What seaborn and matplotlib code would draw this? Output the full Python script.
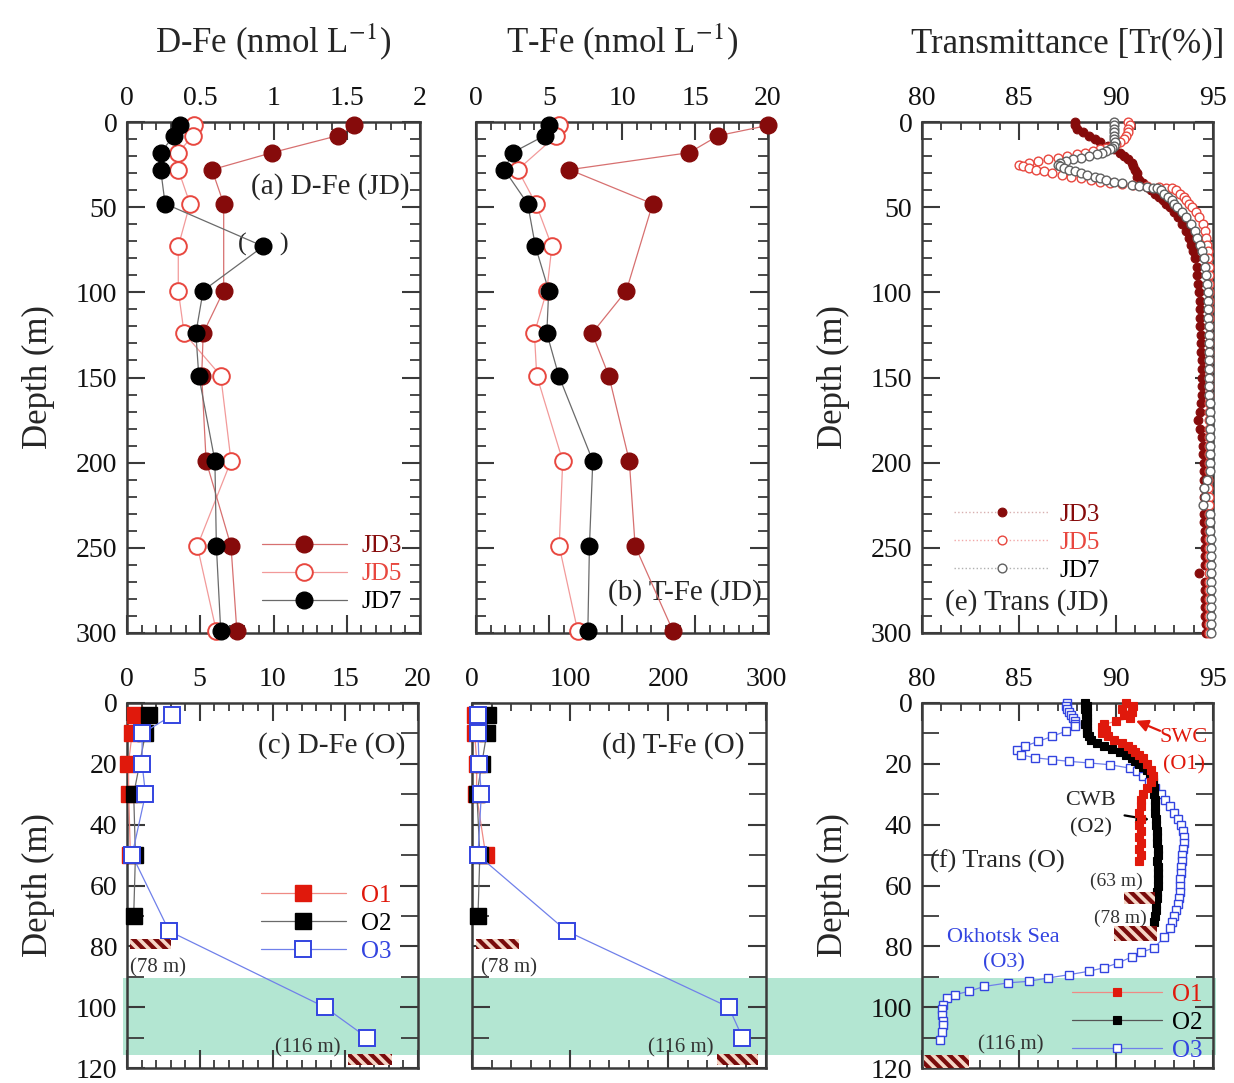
import numpy as np
import pandas as pd
import matplotlib
matplotlib.use("Agg")
import matplotlib.pyplot as plt
import seaborn as sns
from matplotlib.patches import Rectangle
from matplotlib.lines import Line2D
from matplotlib.ticker import MultipleLocator, FuncFormatter

nan = np.nan

# ---------------- data: JD stations (bottle samples) ----------------
JD_DEPTH = [2, 8, 18, 28, 48, 73, 99, 124, 149, 199, 249, 299]
DFE_JD3 = [1.55, 1.44, 0.99, 0.58, 0.66, nan, 0.66, 0.52, 0.51, 0.54, 0.71, 0.75]
DFE_JD5 = [0.46, 0.45, 0.35, 0.35, 0.43, 0.35, 0.35, 0.39, 0.64, 0.71, 0.48, 0.61]
DFE_JD7 = [0.36, 0.32, 0.23, 0.23, 0.26, 0.93, 0.52, 0.47, 0.49, 0.60, 0.61, 0.64]
TFE_JD3 = [20.0, 16.6, 14.6, 6.4, 12.1, nan, 10.3, 7.95, 9.1, 10.5, 10.9, 13.5]
TFE_JD5 = [5.7, 5.5, nan, 2.86, 4.1, 5.2, 4.85, 4.0, 4.16, 5.94, 5.7, 6.97]
TFE_JD7 = [5.03, 4.7, 2.5, 1.94, 3.54, 4.07, 4.98, 4.85, 5.67, 8.0, 7.77, 7.66]

# ---------------- data: O stations (bottle samples) ----------------
O_DEPTH = [4, 10, 20, 30, 50, 70, 75, 100, 110]
DFE_O1 = [0.58, 0.35, 0.10, 0.12, 0.23, nan, nan, nan, nan]
DFE_O2 = [1.50, 1.27, nan, 0.46, 0.58, 0.46, nan, nan, nan]
DFE_O3 = [3.12, 1.04, 1.04, 1.27, 0.35, nan, 2.9, 13.6, 16.5]
TFE_O1 = [3.0, 2.7, 5.0, 4.5, 14.0, nan, nan, nan, nan]
TFE_O2 = [16.4, 15.0, 10.0, 5.0, 8.0, 6.1, nan, nan, nan]
TFE_O3 = [6.1, 6.1, 7.2, 9.5, 6.1, nan, 96.7, 262.0, 276.0]

# ---------------- data: transmittance profiles, JD ----------------
TR_DEEP_DEPTH = [100, 105, 110, 115, 120, 125, 130, 135, 140, 145, 150, 155, 160, 165,
                 170, 175, 180, 185, 190, 195, 200, 205, 210, 215, 220, 225, 230, 235,
                 240, 245, 250, 255, 260, 265, 270, 275, 280, 285, 290, 295, 300]
JD3_TR_DEPTH = [0, 2, 4, 6, 8, 10, 12, 14, 16, 18, 20, 22, 24, 26, 28, 30, 32, 34, 36, 38,
                40, 42, 44, 46, 48, 50, 53, 56, 60, 64, 68, 72, 76, 80, 85, 90, 95]
JD3_TR = [87.9, 87.9, 88.0, 88.3, 88.6, 88.9, 89.2, 89.6, 89.9, 90.2, 90.4, 90.6, 90.8,
          90.9, 91.0, 91.1, 91.1, 91.2, 91.4, 91.6, 91.8, 92.0, 92.2, 92.4, 92.6, 92.8,
          93.0, 93.2, 93.4, 93.6, 93.75, 93.85, 93.95, 94.05, 94.15, 94.2, 94.25]
JD3_TR_DEEP = [94.3, 94.35, 94.35, 94.35, 94.35, 94.4, 94.4, 94.4, 94.45, 94.45, 94.45,
               94.45, 94.45, 94.4, 94.35, 94.25, 94.35, 94.45, 94.5, 94.5, 94.55, 94.55,
               94.55, 94.55, 94.55, 94.6, 94.55, 94.55, 94.6, 94.6, 94.6, 94.6, 94.6,
               94.3, 94.6, 94.6, 94.6, 94.6, 94.6, 94.65, 94.65]
JD5_TR_DEPTH = [0, 2, 4, 6, 8, 10, 12, 13, 14, 15, 16, 17, 18, 19, 20, 21, 22, 23, 24, 25,
                26, 27, 28, 29, 30, 31, 32, 33, 34, 35, 36, 36.5, 37, 37.5, 38, 38.5, 39,
                40, 42, 44, 46, 48, 50, 53, 56, 60, 64, 68, 72, 76, 80, 85, 90, 95]
JD5_TR = [90.6, 90.7, 90.6, 90.6, 90.5, 90.4, 90.2, 90.0, 89.8, 89.5, 89.2, 88.8, 88.4,
          88.0, 87.5, 87.0, 86.5, 86.0, 85.5, 85.0, 85.2, 85.5, 85.9, 86.3, 86.7, 87.2,
          87.7, 88.2, 88.7, 89.2, 89.7, 90.3, 90.9, 91.6, 92.2, 92.6, 92.9, 93.1, 93.3,
          93.5, 93.6, 93.75, 93.9, 94.1, 94.3, 94.5, 94.6, 94.65, 94.7, 94.75, 94.75,
          94.8, 94.8, 94.8]
JD5_TR_DEEP = [94.8, 94.8, 94.8, 94.8, 94.8, 94.8, 94.8, 94.8, 94.8, 94.8, 94.8, 94.8,
               94.8, 94.8, 94.8, 94.8, 94.8, 94.8, 94.8, 94.8, 94.8, 94.8, 94.75, 94.75,
               94.8, 94.8, 94.8, 94.8, 94.8, 94.8, 94.8, 94.8, 94.8, 94.8, 94.8, 94.8,
               94.8, 94.8, 94.8, 94.8, 94.8]
JD7_TR_DEPTH = [0, 2, 4, 6, 8, 10, 12, 14, 15, 16, 17, 18, 19, 20, 21, 22, 23, 24, 25, 26,
                27, 28, 29, 30, 31, 32, 33, 34, 35, 36, 37, 37.5, 38, 38.5, 39, 40, 42, 44,
                46, 48, 50, 53, 56, 60, 64, 68, 72, 76, 80, 85, 90, 95]
JD7_TR = [89.9, 89.9, 89.9, 89.9, 89.9, 89.9, 89.95, 89.9, 89.8, 89.7, 89.5, 89.3, 89.0,
          88.6, 88.2, 87.8, 87.4, 87.1, 87.0, 87.1, 87.3, 87.6, 87.9, 88.2, 88.5, 88.9,
          89.2, 89.5, 89.9, 90.3, 90.8, 91.2, 91.6, 91.9, 92.1, 92.3, 92.5, 92.7, 92.9,
          93.0, 93.15, 93.4, 93.6, 93.85, 94.05, 94.2, 94.35, 94.45, 94.55, 94.6, 94.65,
          94.7]
JD7_TR_DEEP = [94.75, 94.75, 94.75, 94.75, 94.8, 94.8, 94.8, 94.8, 94.8, 94.8, 94.8, 94.8,
               94.8, 94.85, 94.85, 94.85, 94.85, 94.85, 94.85, 94.85, 94.85, 94.85, 94.7,
               94.55, 94.6, 94.5, 94.85, 94.85, 94.85, 94.9, 94.9, 94.9, 94.9, 94.9, 94.9,
               94.9, 94.9, 94.9, 94.9, 94.9, 94.9]

# ---------------- data: transmittance profiles, O ----------------
O1_TR_DEPTH = [0, 1, 2, 3, 4, 5, 6, 7, 8, 9, 10, 11, 12, 13, 14, 15, 16, 17, 18, 20, 22,
               24, 26, 28, 30, 32, 34, 36, 38, 40, 42, 44, 46, 48, 50, 52]
O1_TR = [90.5, 90.9, 90.3, 90.8, 90.4, 90.7, 90.0, 89.4, 89.3, 89.5, 89.3, 89.6, 89.9,
         90.3, 90.6, 90.8, 91.0, 91.2, 91.4, 91.6, 91.8, 91.9, 91.8, 91.6, 91.4, 91.3,
         91.3, 91.2, 91.3, 91.2, 91.3, 91.2, 91.3, 91.2, 91.3, 91.2]
O2_TR_DEPTH = [0, 1, 2, 3, 4, 5, 6, 7, 8, 9, 10, 11, 12, 13, 14, 15, 16, 17, 18, 19, 20,
               21, 22, 23, 24, 25, 26, 28, 30, 32, 34, 36, 38, 40, 42, 44, 46, 48, 50, 52,
               54, 56, 58, 60, 62, 64, 66, 68, 70, 72]
O2_TR = [88.4, 88.5, 88.4, 88.5, 88.45, 88.5, 88.5, 88.4, 88.5, 88.5, 88.5, 88.6, 88.7,
         89.0, 89.4, 89.8, 90.2, 90.5, 90.8, 91.0, 91.2, 91.4, 91.6, 91.75, 91.85, 91.9,
         91.9, 91.95, 91.95, 92.0, 92.0, 92.0, 92.05, 92.05, 92.1, 92.1, 92.1, 92.15,
         92.15, 92.1, 92.15, 92.15, 92.15, 92.15, 92.1, 92.1, 92.05, 92.05, 92.0, 91.95]
O3_TR_DEPTH = [0, 1, 2, 3, 4, 5, 6, 7, 7.7, 9.3, 11, 12.6, 14.2, 15.3, 17, 18, 18.6, 19.2,
               19.7, 20.3, 21.4, 22.5, 24, 26, 28, 30, 32, 34, 36, 38, 40, 42, 44, 46, 48,
               50, 52, 54, 56, 58, 60, 62, 64, 66, 68, 70, 72, 74, 77, 80.5, 82, 83.5,
               85.5, 87, 88.2, 89.3, 90.4, 91.5, 92, 93.2, 94.8, 95.9, 97, 99.2, 100.5,
               102.5, 104.7, 106, 108, 110.7]
O3_TR = [87.5, 87.4, 87.5, 87.6, 87.7, 87.8, 87.9, 87.9, 87.9, 87.4, 86.7, 86.0, 85.3,
         84.9, 85.1, 85.8, 86.7, 87.6, 88.6, 89.7, 90.7, 91.1, 91.4, 91.7, 92.0, 92.3,
         92.55, 92.8, 93.0, 93.2, 93.35, 93.45, 93.5, 93.5, 93.45, 93.4, 93.4, 93.35,
         93.35, 93.3, 93.3, 93.3, 93.25, 93.2, 93.1, 93.0, 92.9, 92.8, 92.5, 91.95, 91.3,
         90.8, 90.1, 89.4, 88.6, 87.6, 86.5, 85.5, 84.45, 83.2, 82.4, 81.7, 81.3, 81.1,
         81.05, 81.05, 81.1, 81.1, 81.05, 80.95]

# ---------------- styling ----------------
sns.set_theme(style="ticks")
plt.rcParams["font.family"] = ["Liberation Serif", "DejaVu Serif"]
plt.rcParams["mathtext.fontset"] = "stix"
plt.rcParams["hatch.linewidth"] = 2.6

C_JD3 = "#860b0b"
C_JD3_L = "#d77070"
C_JD5 = "#e8473f"
C_JD5_L = "#f29a9a"
C_JD7 = "#000000"
C_JD7_L = "#6a6a6a"
C_GREY = "#8a8a8a"
C_O1 = "#e0190c"
C_O1_L = "#ef8a84"
C_O3 = "#3344e0"
C_O3_L = "#7080ea"
BAND = "#b3e6d2"
SPINE = "#3a3a3a"

W, H = 1234, 1083
fig = plt.figure(figsize=(W / 100, H / 100), dpi=100)
fig.patch.set_facecolor("white")


def add_ax(l, r, t, b):
    ax = fig.add_axes([l / W, 1 - b / H, (r - l) / W, (b - t) / H])
    ax.set_facecolor("none")
    return ax


ax_a = add_ax(127, 420, 122, 633)
ax_b = add_ax(476, 768, 122, 633)
ax_e = add_ax(922, 1213, 122, 633)
ax_c = add_ax(127, 418, 703, 1068)
ax_d = add_ax(472, 766, 703, 1068)
ax_f = add_ax(922, 1213, 703, 1068)


def prof(ax, vals, depth, lc, lw, ls, marker, ms, mfc, mec, mew, z):
    df = pd.DataFrame({"v": vals, "d": depth}).dropna()
    sns.lineplot(data=df, x="v", y="d", ax=ax, sort=False, estimator=None,
                 color=lc, linewidth=lw, linestyle=ls, marker=marker,
                 markersize=ms, markerfacecolor=mfc, markeredgecolor=mec,
                 markeredgewidth=mew, zorder=z, clip_on=False, legend=False)


def handle(lc, lw, ls, marker, ms, mfc, mec, mew):
    return Line2D([], [], color=lc, lw=lw, ls=ls, marker=marker, ms=ms,
                  mfc=mfc, mec=mec, mew=mew)


fmt = FuncFormatter(lambda v, p: f"{v:g}")


def style(ax, xlim, ylim, xmaj, xmin, ymaj, ymin, ylab, ymin_len=7):
    ax.set_xlim(*xlim)
    ax.set_ylim(*ylim)
    ax.xaxis.set_major_locator(MultipleLocator(xmaj))
    ax.xaxis.set_minor_locator(MultipleLocator(xmin))
    ax.yaxis.set_major_locator(MultipleLocator(ymaj))
    ax.yaxis.set_minor_locator(MultipleLocator(ymin))
    ax.xaxis.set_major_formatter(fmt)
    ax.yaxis.set_major_formatter(fmt)
    ax.tick_params(which="both", direction="in", top=True, bottom=True, left=True,
                   right=True, labeltop=True, labelbottom=False, labelleft=ylab,
                   labelright=False, colors=SPINE, labelcolor="#111111",
                   labelsize=20)
    ax.tick_params(axis="x", which="major", length=13, width=1.5, pad=8)
    ax.tick_params(axis="x", which="minor", length=6, width=1.3)
    ax.tick_params(axis="y", which="major", length=13, width=1.5, pad=7)
    ax.tick_params(axis="y", which="minor", length=ymin_len, width=1.3)
    for s in ax.spines.values():
        s.set_linewidth(1.8)
        s.set_color(SPINE)
    ax.set_xlabel("")
    ax.set_ylabel("")
    if ylab:
        ax.set_ylabel("Depth (m)", fontsize=25, labelpad=15)


LEG = dict(frameon=False, fontsize=18, labelspacing=0.22, borderpad=0,
           borderaxespad=0, numpoints=1)

# ---------- (a) D-Fe JD ----------
big_o = 12
prof(ax_a, DFE_JD5, JD_DEPTH, C_JD5_L, 0.9, "-", "o", big_o, "white", C_JD5, 1.4, 3)
prof(ax_a, DFE_JD3, JD_DEPTH, C_JD3_L, 0.9, "-", "o", big_o, C_JD3, C_JD3, 1.0, 4)
prof(ax_a, DFE_JD7, JD_DEPTH, C_JD7_L, 0.9, "-", "o", big_o, "black", "black", 1.0, 5)
style(ax_a, (0, 2), (300, 0), 0.5, 0.1, 50, 10, True)
ax_a.xaxis.set_label_position("top")
ax_a.set_xlabel(r"D-Fe (nmol L$^{-1}$)", fontsize=25, labelpad=24)
ax_a.text(1.93, 38, "(a) D-Fe (JD)", fontsize=21, ha="right", va="center")
ax_a.text(0.93, 72, "(     )", fontsize=19, ha="center", va="center")
ax_a.legend([handle(C_JD3_L, 0.9, "-", "o", big_o, C_JD3, C_JD3, 1.0),
             handle(C_JD5_L, 0.9, "-", "o", big_o, "white", C_JD5, 1.4),
             handle(C_JD7_L, 0.9, "-", "o", big_o, "black", "black", 1.0)],
            ["JD3", "JD5", "JD7"], loc="upper left", bbox_to_anchor=(0.46, 0.192),
            handlelength=3.4, handletextpad=0.6,
            labelcolor=[C_JD3, C_JD5, "black"], **LEG)

# ---------- (b) T-Fe JD ----------
prof(ax_b, TFE_JD5, JD_DEPTH, C_JD5_L, 0.9, "-", "o", big_o, "white", C_JD5, 1.4, 3)
prof(ax_b, TFE_JD3, JD_DEPTH, C_JD3_L, 0.9, "-", "o", big_o, C_JD3, C_JD3, 1.0, 4)
prof(ax_b, TFE_JD7, JD_DEPTH, C_JD7_L, 0.9, "-", "o", big_o, "black", "black", 1.0, 5)
style(ax_b, (0, 20), (300, 0), 5, 1, 50, 10, False)
ax_b.xaxis.set_label_position("top")
ax_b.set_xlabel(r"T-Fe (nmol L$^{-1}$)", fontsize=25, labelpad=24)
ax_b.text(19.6, 276, "(b) T-Fe (JD)", fontsize=21, ha="right", va="center")

# ---------- (e) Transmittance JD ----------
sm = 6.3
prof(ax_e, JD3_TR + JD3_TR_DEEP, JD3_TR_DEPTH + TR_DEEP_DEPTH, C_JD3, 1.0, ":", "o", sm,
     C_JD3, C_JD3, 0.8, 3)
prof(ax_e, JD5_TR + JD5_TR_DEEP, JD5_TR_DEPTH + TR_DEEP_DEPTH, C_JD5_L, 1.0, ":", "o", sm,
     "white", C_JD5, 1.0, 4)
prof(ax_e, JD7_TR + JD7_TR_DEEP, JD7_TR_DEPTH + TR_DEEP_DEPTH, C_GREY, 1.0, ":", "o", sm,
     "white", "#606060", 1.0, 5)
style(ax_e, (80, 95), (300, 0), 5, 1, 50, 10, True)
ax_e.xaxis.set_label_position("top")
ax_e.set_xlabel("Transmittance [Tr(%)]", fontsize=25, labelpad=24)
ax_e.text(81.2, 282, "(e) Trans (JD)", fontsize=21, ha="left", va="center")
ax_e.legend([handle("#d8b0b0", 1.0, ":", "o", sm, C_JD3, C_JD3, 0.8),
             handle("#f2a8a8", 1.0, ":", "o", sm, "white", C_JD5, 1.0),
             handle("#b0b0b0", 1.0, ":", "o", sm, "white", "#606060", 1.0)],
            ["JD3", "JD5", "JD7"], loc="upper left", bbox_to_anchor=(0.11, 0.254),
            handlelength=3.8, handletextpad=0.4,
            labelcolor=[C_JD3, C_JD5, "black"], **LEG)

# ---------- (c) D-Fe O ----------
sq = 11
prof(ax_c, DFE_O1, O_DEPTH, C_O1_L, 0.9, "-", "s", sq, C_O1, C_O1, 1.0, 3)
prof(ax_c, DFE_O2, O_DEPTH, C_JD7_L, 0.9, "-", "s", sq, "black", "black", 1.0, 4)
prof(ax_c, DFE_O3, O_DEPTH, C_O3_L, 0.9, "-", "s", sq, "white", C_O3, 1.4, 5)
style(ax_c, (0, 20), (120, 0), 5, 1, 20, 10, True, ymin_len=12)
ax_c.text(19.1, 14, "(c) D-Fe (O)", fontsize=21, ha="right", va="center")
ax_c.legend([handle(C_O1_L, 0.9, "-", "s", sq, C_O1, C_O1, 1.0),
             handle(C_JD7_L, 0.9, "-", "s", sq, "black", "black", 1.0),
             handle(C_O3_L, 0.9, "-", "s", sq, "white", C_O3, 1.4)],
            ["O1", "O2", "O3"], loc="upper left", bbox_to_anchor=(0.46, 0.503),
            handlelength=3.4, handletextpad=0.6,
            labelcolor=[C_O1, "black", C_O3], **LEG)

# ---------- (d) T-Fe O ----------
prof(ax_d, TFE_O1, O_DEPTH, C_O1_L, 0.9, "-", "s", sq, C_O1, C_O1, 1.0, 3)
prof(ax_d, TFE_O2, O_DEPTH, C_JD7_L, 0.9, "-", "s", sq, "black", "black", 1.0, 4)
prof(ax_d, TFE_O3, O_DEPTH, C_O3_L, 0.9, "-", "s", sq, "white", C_O3, 1.4, 5)
style(ax_d, (0, 300), (120, 0), 100, 20, 20, 10, False, ymin_len=12)
ax_d.text(278, 14, "(d) T-Fe (O)", fontsize=21, ha="right", va="center")

# ---------- (f) Transmittance O ----------
ss = 6
prof(ax_f, O3_TR, O3_TR_DEPTH, C_O3_L, 0.9, "-", "s", ss, "white", C_O3, 1.0, 3)
prof(ax_f, O2_TR, O2_TR_DEPTH, "#555555", 0.9, "-", "s", ss, "black", "black", 0.8, 4)
prof(ax_f, O1_TR, O1_TR_DEPTH, C_O1_L, 0.9, "-", "s", ss, C_O1, C_O1, 0.8, 5)
style(ax_f, (80, 95), (120, 0), 5, 1, 20, 10, True, ymin_len=12)
ax_f.text(80.4, 52, "(f) Trans (O)", fontsize=19, ha="left", va="center")
ax_f.text(88.7, 32, "CWB", fontsize=16, ha="center", va="center")
ax_f.text(88.7, 41, "(O2)", fontsize=16, ha="center", va="center")
ax_f.text(93.5, 11.5, "SWC", fontsize=16, ha="center", va="center", color=C_O1)
ax_f.text(93.5, 20.5, "(O1)", fontsize=16, ha="center", va="center", color=C_O1)
ax_f.text(84.2, 77, "Okhotsk Sea", fontsize=16, ha="center", va="center", color=C_O3)
ax_f.text(84.2, 85.5, "(O3)", fontsize=16, ha="center", va="center", color=C_O3)
ax_f.annotate("", xy=(91.85, 38.5), xytext=(90.3, 36.8),
              arrowprops=dict(arrowstyle="-|>", color="black", lw=1.6,
                              mutation_scale=18))
ax_f.annotate("", xy=(90.9, 5.5), xytext=(92.4, 9.5),
              arrowprops=dict(arrowstyle="-|>", color=C_O1, lw=1.6,
                              mutation_scale=18))
ax_f.legend([handle(C_O1_L, 0.9, "-", "s", ss, C_O1, C_O1, 0.8),
             handle("#555555", 0.9, "-", "s", ss, "black", "black", 0.8),
             handle(C_O3_L, 0.9, "-", "s", ss, "white", C_O3, 1.0)],
            ["O1", "O2", "O3"], loc="upper left", bbox_to_anchor=(0.515, 0.232),
            handlelength=3.6, handletextpad=0.4,
            labelcolor=[C_O1, "black", C_O3], **LEG)

# ---------- hatched bars (sampling bottom depths) ----------
def hbar(ax, x0, x1, d0, d1):
    ax.add_patch(Rectangle((x0, d0), x1 - x0, d1 - d0, facecolor="#7a0c0c",
                           edgecolor="#f6d6c6", hatch="\\\\\\", lw=0, zorder=6,
                           clip_on=False))


hbar(ax_c, 0.2, 3.0, 77.5, 81.0)
hbar(ax_c, 15.2, 18.2, 115.3, 119.0)
ax_c.text(2.1, 87.2, "(78 m)", fontsize=15, ha="center", va="center", color="#333333")
ax_c.text(12.4, 113.5, "(116 m)", fontsize=15, ha="center", va="center", color="#333333")
hbar(ax_d, 4.5, 48, 77.5, 81.0)
hbar(ax_d, 250, 292, 115.3, 119.0)
ax_d.text(38, 87.2, "(78 m)", fontsize=15, ha="center", va="center", color="#333333")
ax_d.text(213, 113.5, "(116 m)", fontsize=15, ha="center", va="center", color="#333333")
hbar(ax_f, 90.4, 92.0, 62.0, 66.0)
hbar(ax_f, 89.9, 92.1, 73.4, 78.4)
hbar(ax_f, 80.1, 82.4, 115.6, 120.0)
ax_f.text(90.0, 58.6, "(63 m)", fontsize=14, ha="center", va="center", color="#333333")
ax_f.text(90.2, 70.7, "(78 m)", fontsize=14, ha="center", va="center", color="#333333")
ax_f.text(84.6, 112.3, "(116 m)", fontsize=15, ha="center", va="center", color="#333333")

# ---------- green band (90-116 m) across the bottom row ----------
inv = fig.transFigure.inverted()
y_top = inv.transform(ax_c.transData.transform((0, 90.4)))[1]
y_bot = inv.transform(ax_c.transData.transform((0, 115.7)))[1]
x_left = 123 / W
x_right = 1216 / W
fig.patches.append(Rectangle((x_left, y_bot), x_right - x_left, y_top - y_bot,
                             transform=fig.transFigure, facecolor=BAND,
                             edgecolor="none", zorder=-1))

fig.savefig("out.png", dpi=100, facecolor="white")
